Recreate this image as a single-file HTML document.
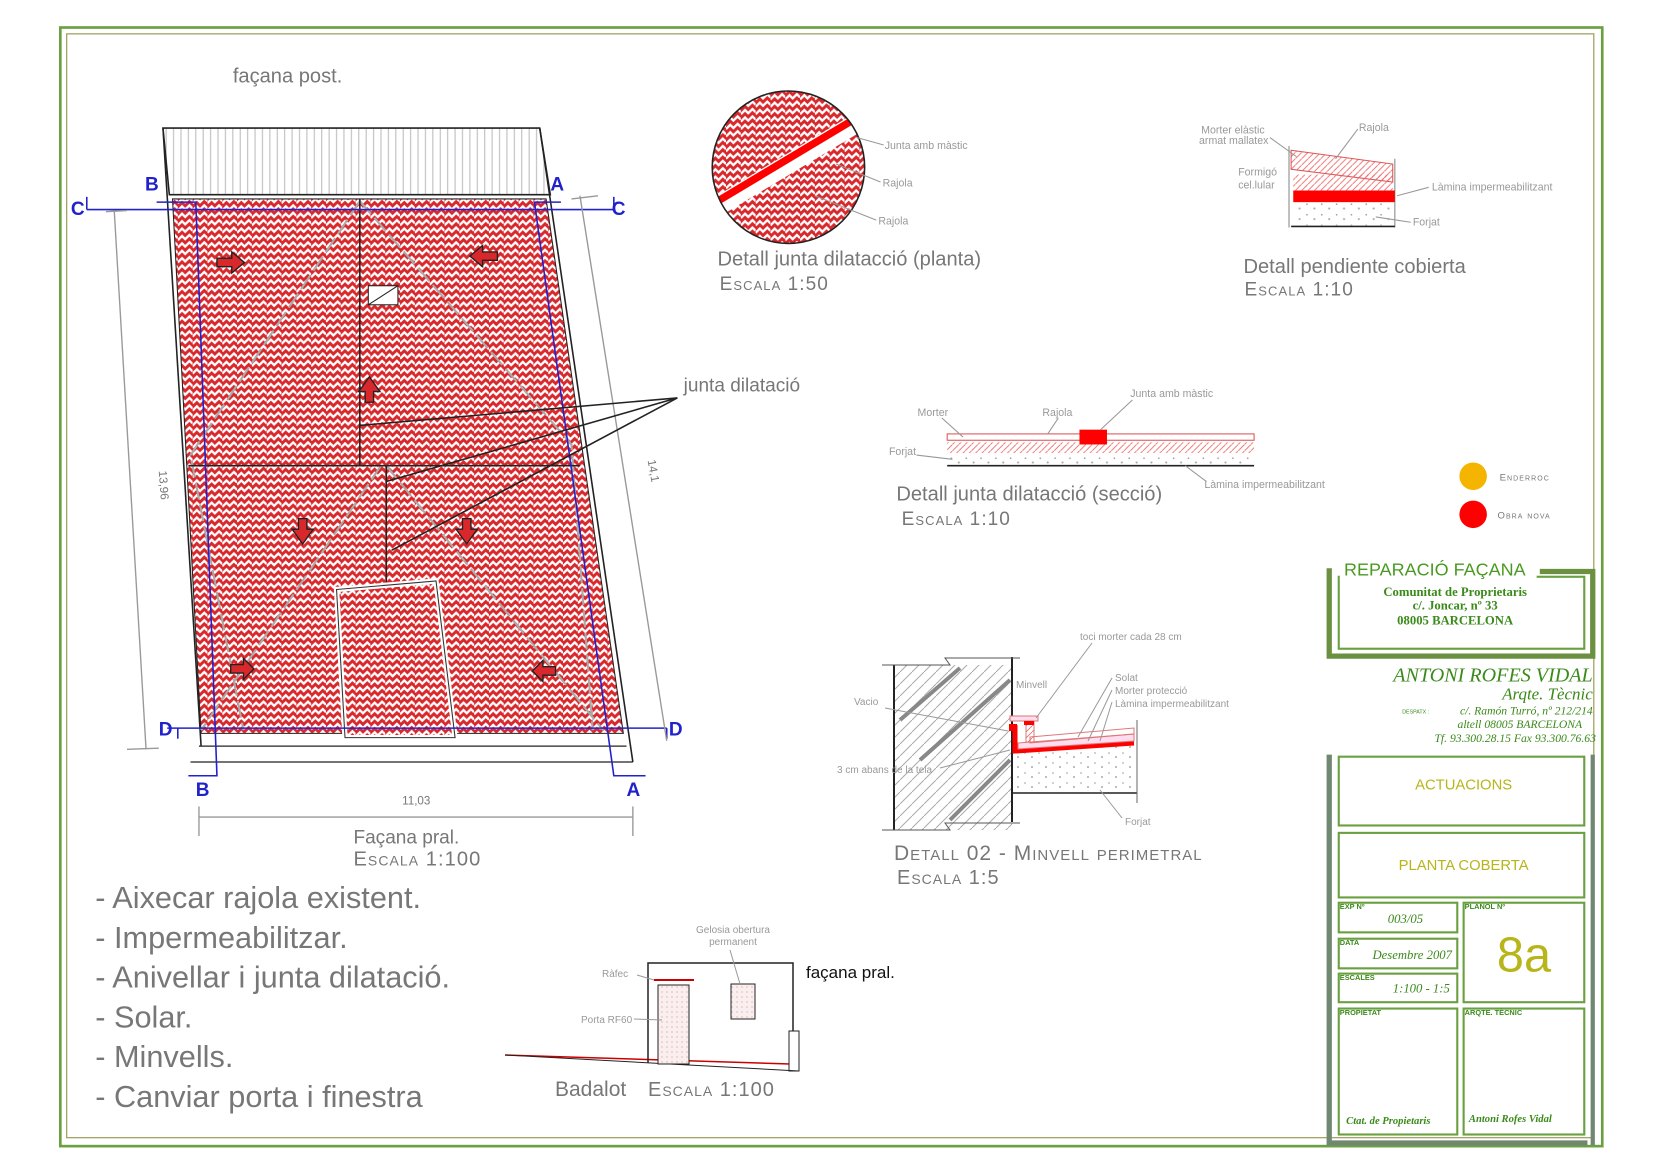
<!DOCTYPE html>
<html><head><meta charset="utf-8"><style>
html,body{margin:0;padding:0;background:#fff}
svg{display:block}
text{font-family:"Liberation Sans",sans-serif}
.g{fill:#777}
.sc{font-variant:small-caps;letter-spacing:1px}
.lbl{fill:#999;font-size:10px}
.tb{fill:#3a8a1a;font-family:"Liberation Serif",serif;font-weight:bold}
.ti{fill:#3a8a1a;font-family:"Liberation Serif",serif;font-style:italic}
.y{fill:#b7b51a}
</style></head><body>
<svg width="1654" height="1170" viewBox="0 0 1654 1170" xmlns="http://www.w3.org/2000/svg">
<defs>
<pattern id="hb" width="14" height="14" patternUnits="userSpaceOnUse">
<rect width="14" height="14" fill="#d9282c"/>
<path d="M0 10 L4 6 L7 9 L11 5 L14 8 M0 3 L4 -1 L7 2 L11 -2 L14 1 M0 17 L4 13 L7 16 L11 12 L14 15" stroke="#fff" stroke-width="2.2" fill="none"/>
</pattern>
<pattern id="vl" width="7" height="10" patternUnits="userSpaceOnUse"><line x1="3" y1="0" x2="3" y2="10" stroke="#bbb" stroke-width="1"/></pattern>
<pattern id="dg" width="12" height="12" patternUnits="userSpaceOnUse"><line x1="0" y1="12" x2="12" y2="0" stroke="#aaa" stroke-width="1"/></pattern>
<pattern id="dr" width="6" height="6" patternUnits="userSpaceOnUse"><line x1="0" y1="6" x2="6" y2="0" stroke="#e66" stroke-width="0.8"/></pattern>
<pattern id="dots" width="14" height="10" patternUnits="userSpaceOnUse"><circle cx="3" cy="3" r="0.8" fill="#999"/><circle cx="10" cy="7" r="1" fill="#aaa"/></pattern>
<pattern id="pd" width="5" height="5" patternUnits="userSpaceOnUse"><rect width="5" height="5" fill="#fbeeee"/><circle cx="2" cy="2" r="0.6" fill="#c99"/></pattern>
<clipPath id="circ"><circle cx="745" cy="158" r="72"/></clipPath>
</defs>

<g transform="scale(1.0583)">
<rect x="57" y="26" width="1457" height="1057" fill="none" stroke="#6aa040" stroke-width="2.5"/>
<rect x="63" y="32" width="1443" height="1043" fill="none" stroke="#a0a060" stroke-width="1.2"/>

<text x="220" y="78" class="g" font-size="19">façana post.</text>
<polygon points="154,121 510,121 520,184 160,184" fill="url(#vl)" stroke="#222" stroke-width="1.5"/>
<line x1="154" y1="121" x2="190" y2="705" stroke="#222" stroke-width="1.5"/>
<line x1="510" y1="121" x2="598" y2="720" stroke="#222" stroke-width="1.5"/>
<polygon points="163,188 516,188 589,693 190,693" fill="url(#hb)" stroke="#222" stroke-width="1"/>
<line x1="188" y1="705" x2="592" y2="705" stroke="#222" stroke-width="1.2"/>
<line x1="180" y1="720" x2="598" y2="720" stroke="#222" stroke-width="1.2"/>
<g stroke="#aaa" stroke-width="2" stroke-dasharray="16,5" fill="none">
<path d="M340,190 L180,430 L230,690"/>
<path d="M340,190 L540,420 L560,690"/>
<path d="M360,440 L190,690"/>
<path d="M365,440 L570,690"/>
</g>
<g stroke="#222" stroke-width="1.5">
<line x1="340" y1="188" x2="340" y2="440"/>
<line x1="178" y1="440" x2="548" y2="440"/>
<line x1="365" y1="440" x2="365" y2="550"/>
</g>
<polygon points="318,557 412,549 430,697 326,697" fill="url(#hb)" stroke="#fff" stroke-width="5"/>
<polygon points="318,557 412,549 430,697 326,697" fill="none" stroke="#333" stroke-width="1"/>
<rect x="348" y="270" width="28" height="18" fill="#fff" stroke="#222"/><line x1="348" y1="288" x2="376" y2="270" stroke="#222"/>
<g fill="#d9282c" stroke="#222" stroke-width="1.3">
<path d="M205,244 h14 v-6 l12,10 l-12,10 v-6 h-14z"/>
<path d="M470,238 h-14 v-6 l-12,10 l12,10 v-6 h14z"/>
<path d="M345,380 v-10 h-6 l10,-14 l10,14 h-6 v10z"/>
<path d="M282,490 v10 h-6 l10,14 l10,-14 h-6 v-10z"/>
<path d="M437,490 v10 h-6 l10,14 l10,-14 h-6 v-10z"/>
<path d="M218,628 h12 v-6 l10,10 l-10,10 v-6 h-12z"/>
<path d="M525,630 h-12 v-6 l-10,10 l10,10 v-6 h12z"/>
</g>
<g stroke="#2222cc" stroke-width="1.5" fill="none">
<line x1="82" y1="198" x2="580" y2="198"/>
<line x1="82" y1="198" x2="82" y2="186"/><line x1="580" y1="198" x2="580" y2="186"/>
<line x1="158" y1="688" x2="630" y2="688"/>
<line x1="168" y1="688" x2="168" y2="698"/><line x1="630" y1="688" x2="630" y2="698"/>
<polyline points="148,191 185,191 205,733 178,733"/>
<polyline points="530,191 505,191 580,733 610,733"/>
</g>
<g font-size="18" fill="#2222cc" font-weight="bold">
<text x="67" y="203">C</text><text x="578" y="203">C</text>
<text x="137" y="180">B</text><text x="520" y="180">A</text>
<text x="150" y="695">D</text><text x="632" y="695">D</text>
<text x="185" y="752">B</text><text x="592" y="752">A</text>
</g>
<g stroke="#999" stroke-width="1.3">
<line x1="108" y1="200" x2="138" y2="708"/><line x1="100" y1="200" x2="120" y2="199"/><line x1="120" y1="708" x2="150" y2="707"/>
<line x1="548" y1="185" x2="630" y2="700"/><line x1="540" y1="188" x2="565" y2="185"/>
<line x1="188" y1="772" x2="598" y2="772"/><line x1="188" y1="762" x2="188" y2="790"/><line x1="598" y1="762" x2="598" y2="790"/>
</g>
<text x="150" y="445" class="g" font-size="11" transform="rotate(86 150 445)">13,96</text>
<text x="612" y="435" class="g" font-size="11" transform="rotate(80 612 435)">14,1</text>
<text x="380" y="760" class="g" font-size="11">11,03</text>
<text x="334" y="797" class="g" font-size="18">Façana pral.</text>
<text x="334" y="818" class="g sc" font-size="19">Escala 1:100</text>
<text x="646" y="370" class="g" font-size="18">junta dilatació</text>
<g stroke="#222" stroke-width="1.5">
<line x1="640" y1="376" x2="340" y2="402"/>
<line x1="640" y1="376" x2="365" y2="455"/>
<line x1="640" y1="376" x2="370" y2="520"/>
</g>
<g class="g" font-size="29">
<text x="90" y="858">- Aixecar rajola existent.</text>
<text x="90" y="896">- Impermeabilitzar.</text>
<text x="90" y="933">- Anivellar i junta dilatació.</text>
<text x="90" y="971">- Solar.</text>
<text x="90" y="1008">- Minvells.</text>
<text x="90" y="1046">- Canviar porta i finestra</text>
</g>

<g clip-path="url(#circ)"><rect x="670" y="80" width="150" height="160" fill="url(#hb)"/>
<line x1="670" y1="200" x2="820" y2="110" stroke="#fff" stroke-width="18"/>
<line x1="670" y1="195" x2="820" y2="105" stroke="#f00" stroke-width="7"/></g>
<circle cx="745" cy="158" r="72" fill="none" stroke="#222" stroke-width="1.5"/>
<g stroke="#999"><line x1="810" y1="130" x2="835" y2="137"/><line x1="790" y1="155" x2="832" y2="172"/><line x1="770" y1="185" x2="828" y2="208"/></g>
<text x="836" y="141" class="lbl">Junta amb màstic</text>
<text x="834" y="176" class="lbl">Rajola</text>
<text x="830" y="212" class="lbl">Rajola</text>
<text x="678" y="251" class="g" font-size="19">Detall junta dilatacció (planta)</text>
<text x="680" y="274" class="g sc" font-size="18">Escala 1:50</text>

<line x1="1218" y1="138" x2="1218" y2="215" stroke="#888"/><line x1="1318" y1="150" x2="1318" y2="215" stroke="#888"/>
<polygon points="1220,142 1316,155 1316,172 1220,160" fill="url(#dr)" stroke="#d55"/>
<rect x="1222" y="165" width="94" height="15" fill="url(#dr)"/>
<rect x="1222" y="180" width="96" height="11" fill="#f00"/>
<rect x="1222" y="191" width="96" height="22" fill="url(#dots)"/>
<line x1="1220" y1="214" x2="1318" y2="214" stroke="#222" stroke-width="1.5"/>
<g class="lbl"><text x="1135" y="126">Morter elàstic</text><text x="1133" y="136">armat mallatex</text>
<text x="1284" y="124">Rajola</text><text x="1170" y="166">Formigó</text><text x="1170" y="178">cel.lular</text>
<text x="1353" y="180">Làmina impermeabilitzant</text><text x="1335" y="213">Forjat</text></g>
<g stroke="#999"><line x1="1200" y1="130" x2="1225" y2="148"/><line x1="1283" y1="122" x2="1262" y2="150"/><line x1="1320" y1="185" x2="1350" y2="177"/><line x1="1300" y1="205" x2="1333" y2="210"/></g>
<text x="1175" y="258" class="g" font-size="19">Detall pendiente cobierta</text>
<text x="1176" y="279" class="g sc" font-size="18">Escala 1:10</text>

<rect x="895" y="410" width="290" height="6" fill="none" stroke="#d55" stroke-width="1"/>
<rect x="895" y="418" width="290" height="10" fill="url(#dr)"/>
<rect x="895" y="428" width="290" height="12" fill="url(#dots)"/>
<line x1="895" y1="440" x2="1185" y2="440" stroke="#222" stroke-width="1.5"/>
<rect x="1020" y="406" width="26" height="14" fill="#f00"/>
<g class="lbl"><text x="867" y="393">Morter</text><text x="985" y="393">Rajola</text><text x="1068" y="375">Junta amb màstic</text>
<text x="840" y="430">Forjat</text><text x="1138" y="461">Làmina impermeabilitzant</text></g>
<g stroke="#999"><line x1="890" y1="395" x2="910" y2="413"/><line x1="1000" y1="395" x2="990" y2="410"/><line x1="1070" y1="378" x2="1040" y2="406"/><line x1="866" y1="430" x2="900" y2="434"/><line x1="1140" y1="455" x2="1120" y2="440"/></g>
<text x="847" y="473" class="g" font-size="19">Detall junta dilatacció (secció)</text>
<text x="852" y="496" class="g sc" font-size="18">Escala 1:10</text>

<circle cx="1392" cy="450" r="13" fill="#f5b400"/><text x="1417" y="454" class="g sc" font-size="9">Enderroc</text>
<circle cx="1392" cy="486" r="13" fill="#f00"/><text x="1415" y="490" class="g sc" font-size="9">Obra nova</text>

<!-- title block (display coords) -->
<g fill="none">
<polyline points="1256,537 1256,620 1505,620 1505,540 1455,540" stroke-width="5" stroke="#6a9040"/>
<rect x="1265" y="545" width="232" height="68" stroke-width="2" stroke="#6aa040"/>
<polyline points="1256,713 1256,1080 1500,1080" stroke-width="5" stroke="#708870"/>
<line x1="1505" y1="713" x2="1505" y2="1082" stroke-width="4" stroke="#708870"/>
<g stroke="#6aa040" stroke-width="2">
<rect x="1265" y="715" width="232" height="65"/>
<rect x="1265" y="787" width="232" height="61"/>
<rect x="1265" y="853" width="112" height="28"/>
<rect x="1265" y="887" width="112" height="28"/>
<rect x="1265" y="920" width="112" height="27"/>
<rect x="1383" y="853" width="114" height="94"/>
<rect x="1265" y="953" width="112" height="119"/>
<rect x="1383" y="953" width="114" height="119"/>
</g>
</g>
<rect x="1266" y="528" width="186" height="20" fill="#fff"/>
<text x="1270" y="544" fill="#4a9a22" font-size="17">REPARACIÓ FAÇANA</text>
<text x="1375" y="563" class="tb" font-size="12" text-anchor="middle">Comunitat de Proprietaris</text>
<text x="1375" y="576" class="tb" font-size="12" text-anchor="middle">c/. Joncar, nº 33</text>
<text x="1375" y="590" class="tb" font-size="12" text-anchor="middle">08005  BARCELONA</text>
<text x="1505" y="644" class="ti" font-size="19" text-anchor="end">ANTONI ROFES VIDAL</text>
<text x="1505" y="661" class="ti" font-size="16" text-anchor="end">Arqte. Tècnic</text>
<text x="1505" y="675" class="ti" font-size="11" text-anchor="end">c/. Ramón Turró, nº 212/214</text>
<text x="1325" y="674" fill="#3a8a1a" font-size="5">DESPATX :</text>
<text x="1495" y="688" class="ti" font-size="11" text-anchor="end">altell 08005 BARCELONA</text>
<text x="1508" y="701" class="ti" font-size="11" text-anchor="end">Tf.  93.300.28.15   Fax  93.300.76.63</text>
<text x="1383" y="746" class="y" font-size="14" text-anchor="middle">ACTUACIONS</text>
<text x="1383" y="822" class="y" font-size="14" text-anchor="middle">PLANTA COBERTA</text>
<g fill="#3a8a1a" font-size="7" font-weight="bold"><text x="1266" y="859">EXP Nº</text><text x="1384" y="859">PLANOL Nº</text><text x="1266" y="893">DATA</text><text x="1266" y="926">ESCALES</text><text x="1266" y="959">PROPIETAT</text><text x="1384" y="959">ARQTE. TÈCNIC</text></g>
<text x="1328" y="872" class="ti" font-size="12" text-anchor="middle">003/05</text>
<text x="1372" y="906" class="ti" font-size="12" text-anchor="end">Desembre 2007</text>
<text x="1370" y="938" class="ti" font-size="12" text-anchor="end">1:100 - 1:5</text>
<text x="1440" y="918" class="y" font-size="46" text-anchor="middle">8a</text>
<text x="1272" y="1062" class="ti" font-size="10" font-weight="bold">Ctat. de Propietaris</text>
<text x="1388" y="1060" class="ti" font-size="10" font-weight="bold">Antoni Rofes Vidal</text>
</g>

<!-- Minvell detail (real coords) -->
<rect x="894" y="665" width="118" height="165" fill="url(#dg)"/>
<g stroke="#888" stroke-width="4"><line x1="900" y1="720" x2="960" y2="668"/><line x1="920" y1="760" x2="1010" y2="680"/><line x1="950" y1="820" x2="1010" y2="760"/></g>
<line x1="894" y1="665" x2="894" y2="830" stroke="#222" stroke-width="2"/>
<line x1="1012" y1="657" x2="1012" y2="822" stroke="#222" stroke-width="2"/>
<polyline points="882,665 950,665 945,658 1020,658" fill="none" stroke="#555"/>
<polyline points="882,830 950,830 945,823 1020,823" fill="none" stroke="#555"/>
<polygon points="1014,752 1135,744 1135,793 1014,793" fill="url(#dots)"/>
<line x1="1013" y1="793" x2="1137" y2="793" stroke="#222" stroke-width="1.5"/>
<line x1="1137" y1="720" x2="1137" y2="803" stroke="#666"/>
<polyline points="1015,725 1015,751 1134,743" fill="none" stroke="#f00" stroke-width="5"/>
<rect x="1009" y="724" width="8" height="7" fill="#f00"/>
<polygon points="1018,743 1134,734 1134,741 1018,749" fill="#fde" stroke="#d77"/>
<polygon points="1030,737 1134,728 1134,734 1030,743" fill="none" stroke="#d77"/>
<rect x="1010" y="716" width="28" height="5" fill="#fde" stroke="#d77"/>
<rect x="1026" y="722" width="8" height="20" fill="url(#dr)" stroke="#d77"/>
<rect x="1024" y="721" width="10" height="4" fill="#f00"/>
<g class="lbl" font-size="11"><text x="1080" y="640">toci morter cada 28 cm</text><text x="1016" y="688">Minvell</text>
<text x="1115" y="681">Solat</text><text x="1115" y="694">Morter protecció</text><text x="1115" y="707">Làmina impermeabilitzant</text>
<text x="854" y="705">Vacio</text><text x="837" y="773">3 cm abans de la tela</text><text x="1125" y="825">Forjat</text></g>
<g stroke="#999"><line x1="885" y1="708" x2="1008" y2="731"/><line x1="940" y1="768" x2="1010" y2="750"/><line x1="1092" y1="643" x2="1036" y2="718"/><line x1="1112" y1="678" x2="1078" y2="737"/><line x1="1112" y1="690" x2="1088" y2="741"/><line x1="1112" y1="702" x2="1100" y2="741"/><line x1="1122" y1="818" x2="1100" y2="790"/></g>
<text x="894" y="860" class="g sc" font-size="21">Detall 02 - Minvell perimetral</text>
<text x="897" y="884" class="g sc" font-size="20">Escala 1:5</text>

<!-- Badalot (real coords) -->
<line x1="505" y1="1055" x2="790" y2="1064" stroke="#c00" stroke-width="1.5"/>
<polyline points="648,1063 648,963 793,963 793,1031" fill="none" stroke="#222" stroke-width="1.5"/>
<rect x="789" y="1031" width="10" height="40" fill="#fff" stroke="#222"/>
<line x1="505" y1="1055" x2="799" y2="1071" stroke="#222"/>
<rect x="658" y="985" width="31" height="79" fill="url(#pd)" stroke="#222"/>
<rect x="731" y="984" width="24" height="35" fill="url(#pd)" stroke="#222"/>
<line x1="654" y1="980" x2="694" y2="980" stroke="#c00" stroke-width="2"/>
<g class="lbl" font-size="11"><text x="733" y="933" text-anchor="middle">Gelosia obertura</text><text x="733" y="945" text-anchor="middle">permanent</text><text x="602" y="977">Ràfec</text><text x="581" y="1023">Porta RF60</text></g>
<g stroke="#999"><line x1="637" y1="975" x2="654" y2="980"/><line x1="634" y1="1019" x2="662" y2="1020"/><line x1="730" y1="950" x2="740" y2="984"/></g>
<text x="806" y="978" font-size="17" fill="#111">façana pral.</text>
<text x="555" y="1096" class="g" font-size="21">Badalot</text>
<text x="648" y="1096" class="g sc" font-size="20">Escala 1:100</text>
</svg>
</body></html>
